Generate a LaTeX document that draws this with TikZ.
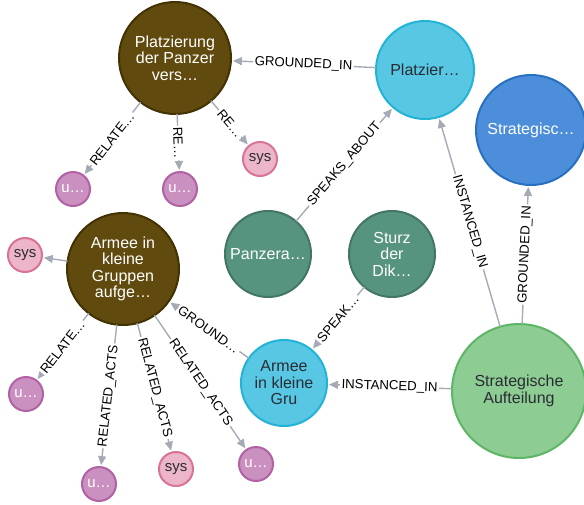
\documentclass[tikz,border=0pt]{standalone}
\usepackage{fontspec}
\setmainfont{Liberation Sans}
\usetikzlibrary{arrows.meta}
\definecolor{brownF}{HTML}{604A0E}
\definecolor{brownB}{HTML}{423204}
\definecolor{cyanF}{HTML}{57C7E3}
\definecolor{cyanB}{HTML}{23B3D7}
\definecolor{blueF}{HTML}{4C8EDA}
\definecolor{blueB}{HTML}{2870C2}
\definecolor{lgreenF}{HTML}{8DCC93}
\definecolor{lgreenB}{HTML}{5DB665}
\definecolor{dgreenF}{HTML}{569480}
\definecolor{dgreenB}{HTML}{447666}
\definecolor{pinkF}{HTML}{ECB5C9}
\definecolor{pinkB}{HTML}{DA7298}
\definecolor{purpF}{HTML}{C990C0}
\definecolor{purpB}{HTML}{B261A5}
\definecolor{darktext}{HTML}{2A2C34}
\definecolor{edgegray}{HTML}{A5ABB6}
\newcommand{\nodefnt}{\fontsize{16}{16.5}\selectfont}
\newcommand{\smallfnt}{\fontsize{15}{16}\selectfont}
\newcommand{\lblfnt}{\fontsize{13.2}{14}\selectfont}
\tikzset{
  nd/.style={circle, draw, line width=2pt, inner sep=0pt, outer sep=0pt, align=center, font=\nodefnt},
  brownnode/.style={nd, fill=brownF, draw=brownB, text=white},
  cyannode/.style={nd, fill=cyanF, draw=cyanB, text=darktext},
  bluenode/.style={nd, fill=blueF, draw=blueB, text=white},
  lgreennode/.style={nd, fill=lgreenF, draw=lgreenB, text=darktext},
  dgreennode/.style={nd, fill=dgreenF, draw=dgreenB, text=white},
  sysnode/.style={nd, fill=pinkF, draw=pinkB, text=darktext, minimum size=34pt, font=\smallfnt},
  unode/.style={nd, fill=purpF, draw=purpB, text=white, minimum size=34pt, font=\smallfnt},
  rel/.style={draw=edgegray, line width=1.4pt, -{Triangle[length=9pt,width=8pt]}, shorten >=2pt},
  lbl/.style={font=\lblfnt, fill=white, inner sep=1.5pt, sloped, midway, text=black}
}
\begin{document}
\begin{tikzpicture}[x=1pt,y=-1pt]
\useasboundingbox (0,0) rectangle (584,504);
% nodes
\node[brownnode, minimum size=112pt] (plz) at (175,58) {Platzierung\\der Panzer\\vers…};
\node[cyannode, minimum size=98pt] (plzr) at (425,70) {Platzier…};
\node[bluenode, minimum size=110pt] (strg) at (531,130) {Strategisc…};
\node[lgreennode, minimum size=134pt] (sauf) at (519,391) {Strategische\\Aufteilung};
\node[cyannode, minimum size=86pt] (agru) at (284,383) {Armee\\in kleine\\Gru};
\node[dgreennode, minimum size=86pt] (stz) at (392,254) {Sturz\\der\\Dik…};
\node[dgreennode, minimum size=86pt] (pnz) at (268,254) {Panzera…};
\node[brownnode, minimum size=112pt] (arm) at (123,269) {Armee in\\kleine\\Gruppen\\aufge…};
\node[unode] (ua) at (73,189) {u…};
\node[unode] (ub) at (180,189) {u…};
\node[sysnode] (sa) at (260,159) {sys};
\node[sysnode] (sb) at (25,255) {sys};
\node[unode] (uc) at (26,394) {u…};
\node[unode] (ud) at (99,484) {u…};
\node[sysnode] (sc) at (176,469) {sys};
\node[unode] (ue) at (256,464) {u…};
% edges
\draw[rel] (plzr) -- node[lbl] {GROUNDED\_IN} (plz);
\draw[rel] (pnz) -- node[lbl] {SPEAKS\_ABOUT} (plzr);
\draw[rel] (sauf) -- node[lbl] {INSTANCED\_IN} (plzr);
\draw[rel] (sauf) -- node[lbl] {GROUNDED\_IN} (strg);
\draw[rel] (sauf) -- node[lbl] {INSTANCED\_IN} (agru);
\draw[rel] (stz) -- node[lbl] {SPEAK…} (agru);
\draw[rel] (agru) -- node[lbl] {GROUND…} (arm);
\draw[rel] (plz) -- node[lbl] {RELATE…} (ua);
\draw[rel] (plz) -- node[lbl] {RE…} (ub);
\draw[rel] (plz) -- node[lbl] {RE…} (sa);
\draw[rel] (arm) -- (sb);
\draw[rel] (arm) -- node[lbl] {RELATE…} (uc);
\draw[rel] (arm) -- node[lbl] {RELATED\_ACTS} (ud);
\draw[rel] (arm) -- node[lbl] {RELATED\_ACTS} (sc);
\draw[rel] (arm) -- node[lbl] {RELATED\_ACTS} (ue);
\end{tikzpicture}
\end{document}
